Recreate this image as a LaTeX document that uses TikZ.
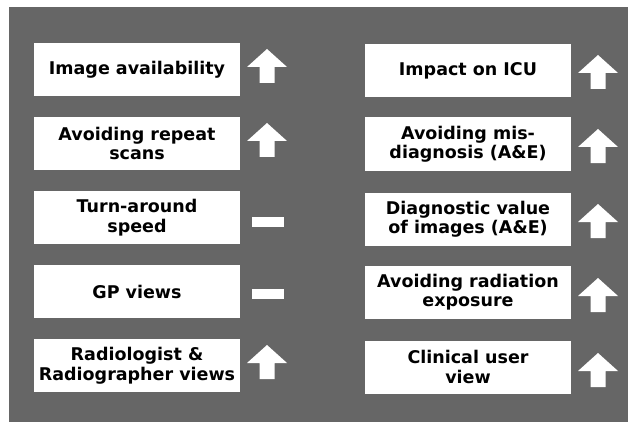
\documentclass[tikz,border=0pt]{standalone}
\usepackage{fontspec}
\setmainfont{DejaVu Sans}
\definecolor{panelgrey}{RGB}{102,102,102}

\tikzset{
  factor/.style={fill=white,minimum width=206pt,minimum height=53pt,inner sep=0pt,
    align=center,font=\fontsize{17.5}{19.5}\selectfont\bfseries},
  rise/.pic={\fill[white] (0,-17) -- (20,1) -- (7.5,1) -- (7.5,17) -- (-7.5,17) -- (-7.5,1) -- (-20,1) -- cycle;},
  level/.pic={\fill[white] (-16,-5) rectangle (16,5);}
}

\begin{document}
\begin{tikzpicture}[x=1pt,y=-1pt]
  \useasboundingbox (0,0) rectangle (628,422);
  \fill[panelgrey] (9,7) rectangle (628,422);

  % left column
  \node[factor] (avail) at (137,69.5) {Image availability};
  \node[factor] (repeat) at (137,143.5) {Avoiding repeat\\scans};
  \node[factor] (speed) at (137,217.5) {Turn-around\\speed};
  \node[factor] (gp) at (137,291.5) {GP views};
  \node[factor] (radio) at (137,365.5) {Radiologist \&\\Radiographer views};

  \pic at (267,66) {rise};
  \pic at (267,140) {rise};
  \pic at (268,222) {level};
  \pic at (268,294) {level};
  \pic at (267,362) {rise};

  % right column
  \node[factor] (icu) at (468,71) {Impact on ICU};
  \node[factor] (misdiag) at (468,144) {Avoiding mis-\\diagnosis (A\&E)};
  \node[factor] (diagval) at (468,219) {Diagnostic value\\of images (A\&E)};
  \node[factor] (radiation) at (468,292) {Avoiding radiation\\exposure};
  \node[factor] (clinical) at (468,367) {Clinical user\\view};

  \pic at (598,72) {rise};
  \pic at (598,146) {rise};
  \pic at (598,221) {rise};
  \pic at (598,295) {rise};
  \pic at (598,370) {rise};

\end{tikzpicture}
\end{document}
